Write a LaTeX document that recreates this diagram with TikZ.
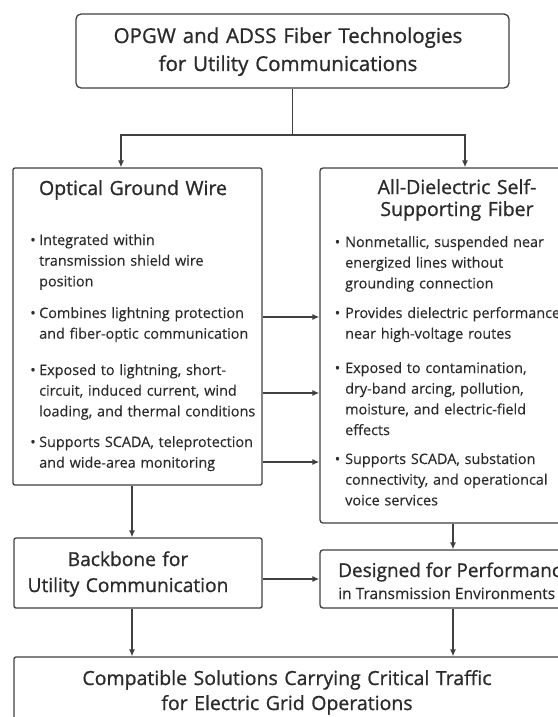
\documentclass[tikz,border=0pt]{standalone}
\usepackage{fontspec}
\setmainfont{Open Sans}[FakeBold=0.3]
\newfontfamily\headfont{Open Sans}[FakeBold=0.9]
\usetikzlibrary{arrows.meta}
\definecolor{ink}{HTML}{2B2B2B}
\definecolor{edge}{HTML}{404040}
\begin{document}
\begin{tikzpicture}[x=1pt,y=-1pt,
  box/.style={draw=edge, line width=1.3pt, rounded corners=3pt, fill=white, inner sep=0pt},
  plain/.style={draw=edge, line width=1.3pt},
  conn/.style={plain, -{Latex[length=7pt,width=6pt]}},
  bigtext/.style={text=ink, inner sep=0pt, anchor=base, align=center, text width=440pt,
    font=\headfont\fontsize{19.5}{25}\selectfont},
  head/.style={text=ink, inner sep=0pt, anchor=base, align=center, text width=240pt,
    font=\headfont\fontsize{19.5}{22}\selectfont},
  item/.style={text=ink, inner sep=0pt, anchor=base west, align=left, text width=250pt,
    font=\fontsize{14.4}{20.7}\selectfont},
]
\useasboundingbox (0,0) rectangle (557,717);

% ---------- boxes ----------
\node[box, rounded corners=5pt, minimum width=433pt, minimum height=74pt] (title) at (292.5,51) {};
\node[box, rounded corners=2pt, minimum width=249pt, minimum height=317pt] (opgw) at (137.5,326.5) {};
\node[box, minimum width=290pt, minimum height=355pt] (adss) at (465,345.5) {};
\node[box, rounded corners=2pt, minimum width=248pt, minimum height=70pt] (bb) at (138,573) {};
\node[box, minimum width=270pt, minimum height=58pt] (des) at (455,579) {};
\node[box, rounded corners=2pt, minimum width=546pt, minimum height=103pt] (grid) at (287,708.5) {};

% ---------- texts ----------
\node[bigtext, font=\headfont\fontsize{20.5}{28}\selectfont] (titletxt) at (288,43)
  {OPGW and ADSS Fiber Technologies\\for Utility Communications};

\node[head] (opgwhead) at (133,195) {Optical Ground Wire};
\node[item] (o1) at (39,245) {\llap{\textbullet\hspace{3.5pt}}Integrated within\\transmission shield wire\\position};
\node[item] (o2) at (39,318) {\llap{\textbullet\hspace{3.5pt}}Combines lightning protection\\and fiber-optic communication};
\node[item] (o3) at (39,375) {\llap{\textbullet\hspace{3.5pt}}Exposed to lightning, short-\\circuit, induced current, wind\\loading, and thermal conditions};
\node[item] (o4) at (39,447) {\llap{\textbullet\hspace{3.5pt}}Supports SCADA, teleprotection\\and wide-area monitoring};

\node[head] (adsshead) at (457,194) {All-Dielectric Self-\\Supporting Fiber};
\node[item] (a1) at (345,247) {\llap{\textbullet\hspace{5pt}}Nonmetallic, suspended near\\energized lines without\\grounding connection};
\node[item] (a2) at (345,318) {\llap{\textbullet\hspace{5pt}}Provides dielectric performance\\near high-voltage routes};
\node[item] (a3) at (345,373) {\llap{\textbullet\hspace{5pt}}Exposed to contamination,\\dry-band arcing, pollution,\\moisture, and electric-field\\effects};
\node[item] (a4) at (345,464) {\llap{\textbullet\hspace{5pt}}Supports SCADA, substation\\connectivity, and operationcal\\voice services};

\node[bigtext, text width=240pt, font=\headfont\fontsize{19.2}{26}\selectfont] (bbtxt) at (128,566)
  {Backbone for\\Utility Communication};

\node[text=ink, inner sep=0pt, anchor=base west, font=\headfont\fontsize{19}{22}\selectfont] (des1) at (338,577)
  {Designed for Performance};
\node[text=ink, inner sep=0pt, anchor=base west, font=\fontsize{15.5}{18}\selectfont] (des2) at (338,599)
  {in Transmission Environments};

\node[bigtext, font=\headfont\fontsize{19.5}{25}\selectfont] (gridtxt) at (287,685)
  {Compatible Solutions Carrying Critical Traffic\\for Electric Grid Operations};

% ---------- connectors ----------
\coordinate (split) at (292.5,135);
\draw[plain] (title.south) -- (split);
\draw[conn] (split) -| ([xshift=-16.5pt]opgw.north);
\draw[conn] (split) -| (adss.north);

\draw[conn] ([yshift=9.5pt]opgw.east) -- ([yshift=9.5pt]opgw.east -| adss.west);
\draw[conn] ([yshift=-66.5pt]opgw.east) -- ([yshift=-66.5pt]opgw.east -| adss.west);
\draw[conn] ([yshift=-135.5pt]opgw.east) -- ([yshift=-135.5pt]opgw.east -| adss.west);

\draw[conn] ([xshift=-5.5pt]opgw.south) -- ([xshift=-5.5pt]opgw.south |- bb.north);
\draw[conn] ([xshift=-12pt]adss.south) -- ([xshift=-12pt]adss.south |- des.north);
\draw[conn] ([yshift=-6pt]bb.east) -- ([yshift=-6pt]bb.east -| des.west);
\draw[conn] ([xshift=-6pt]bb.south) -- ([xshift=-6pt]bb.south |- grid.north);
\draw[conn] ([xshift=-2pt]des.south) -- ([xshift=-2pt]des.south |- grid.north);
\end{tikzpicture}
\end{document}
